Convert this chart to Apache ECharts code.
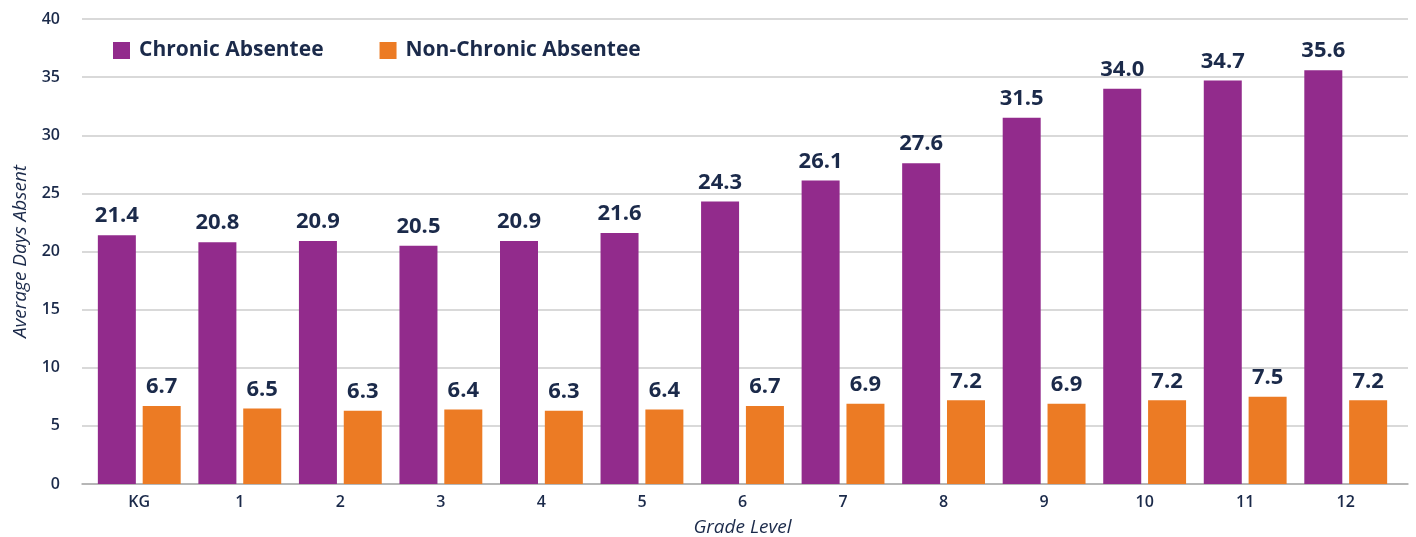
<!DOCTYPE html>
<html><head><meta charset="utf-8">
<script src="https://cdn.jsdelivr.net/npm/echarts@6/dist/echarts.min.js"></script>
<style>html,body{margin:0;padding:0;background:#fff}#c{width:1416px;height:537px}</style>
</head><body><div id="c"></div>
<script>
const categories = ['KG','1','2','3','4','5','6','7','8','9','10','11','12'];
const chronic = [21.4, 20.8, 20.9, 20.5, 20.9, 21.6, 24.3, 26.1, 27.6, 31.5, 34.0, 34.7, 35.6];
const nonChronic = [6.7, 6.5, 6.3, 6.4, 6.3, 6.4, 6.7, 6.9, 7.2, 6.9, 7.2, 7.5, 7.2];
const yTicks = [0, 5, 10, 15, 20, 25, 30, 35, 40];

const navy = '#1B2A4A';
const font = 'Open Sans';
const chart = echarts.init(document.getElementById('c'));
const lbl = {show: true, position: 'top', distance: 8, color: navy, fontFamily: font, fontWeight: 'bold', fontSize: 22,
  formatter: p => p.value.toFixed(1)};
chart.setOption({
  animation: false,
  textStyle: {fontFamily: font},
  legend: {
    left: 108, top: 35, itemWidth: 17, itemHeight: 17, itemGap: 56, icon: 'rect',
    textStyle: {color: navy, fontFamily: font, fontWeight: 'bold', fontSize: 21, padding: [0, 0, 0, 4]},
    data: ['Chronic Absentee', 'Non-Chronic Absentee']
  },
  grid: [
    {left: 82, right: 8, top: 19, bottom: 53, outerBoundsMode: 'none', containLabel: false},
    {left: 89, right: 20, top: 19, bottom: 53, outerBoundsMode: 'none', containLabel: false}
  ],
  xAxis: [
    {gridIndex: 0, type: 'category', data: categories, show: true,
     axisLine: {show: true, lineStyle: {color: '#AAAAAA', width: 1.5}}, axisTick: {show: false}, axisLabel: {show: false}},
    {gridIndex: 1, type: 'category', data: categories,
     axisLine: {show: false}, axisTick: {show: false},
     axisLabel: {color: navy, fontFamily: font, fontSize: 16, fontWeight: 600, margin: 10},
     name: 'Grade Level', nameLocation: 'middle', nameGap: 34,
     nameTextStyle: {color: navy, fontFamily: font, fontSize: 19, fontStyle: 'italic'}}
  ],
  yAxis: [
    {gridIndex: 0, type: 'value', min: 0, max: 40, interval: 5,
     axisLabel: {color: navy, fontFamily: font, fontSize: 16, fontWeight: 600, margin: 22},
     splitLine: {lineStyle: {color: '#CCCCCC', width: 1.5}},
     axisLine: {show: false}, axisTick: {show: false},
     name: 'Average Days Absent', nameLocation: 'middle', nameGap: 52,
     nameTextStyle: {color: navy, fontFamily: font, fontSize: 19, fontStyle: 'italic'}},
    {gridIndex: 1, type: 'value', min: 0, max: 40, interval: 5, show: false, splitLine: {show: false}}
  ],
  series: [
    {name: 'Chronic Absentee', type: 'bar', xAxisIndex: 1, yAxisIndex: 1, data: chronic,
     barWidth: 38, barGap: '18%', itemStyle: {color: '#922B8C'}, label: lbl},
    {name: 'Non-Chronic Absentee', type: 'bar', xAxisIndex: 1, yAxisIndex: 1, data: nonChronic,
     barWidth: 38, barGap: '18%', itemStyle: {color: '#EC7B24'}, label: lbl}
  ]
});
</script></body></html>
